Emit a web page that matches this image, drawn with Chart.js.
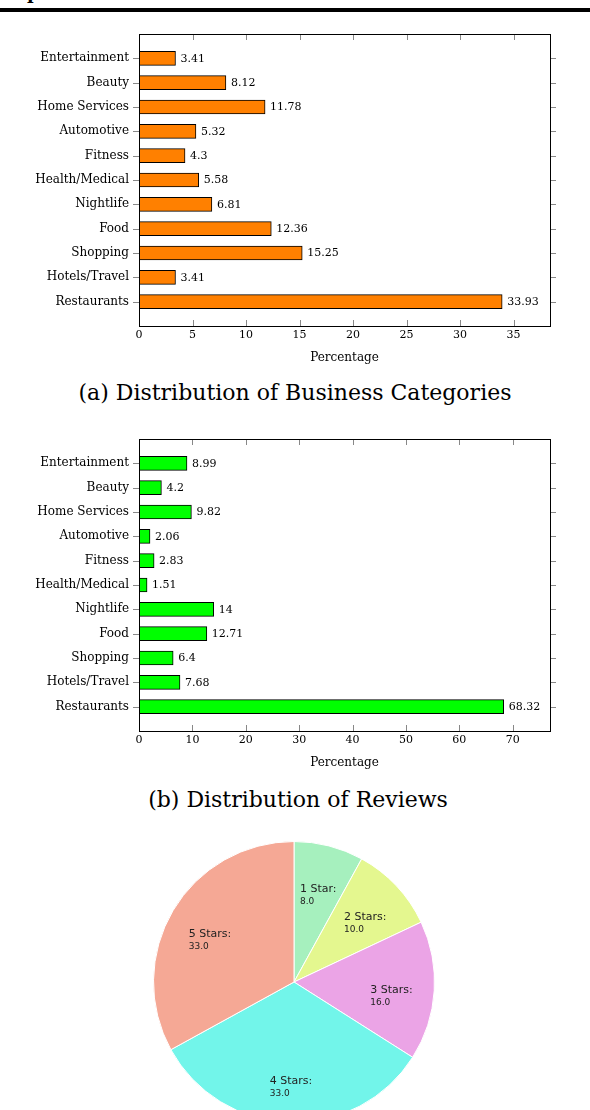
<!DOCTYPE html>
<html>
<head>
<meta charset="utf-8">
<script src="https://cdn.jsdelivr.net/npm/chart.js@4.4.1/dist/chart.umd.min.js"></script>
<style>
  html, body { margin:0; padding:0; background:#fff; }
  #page { position:relative; width:590px; height:1110px; overflow:hidden; background:#fff; }
  canvas { position:absolute; }
  .rule { position:absolute; left:0; top:8px; width:590px; height:4px; background:#000; }
  .head { position:absolute; left:27px; top:-16px; font:bold 18px "DejaVu Serif"; line-height:18px; color:#000; }
  .cap { position:absolute; left:0; width:590px; text-align:center; font:22px "DejaVu Serif"; line-height:26px; color:#000; }
</style>
</head>
<body>
<div id="page">
  <div class="head">p</div>
  <div class="rule"></div>
  <canvas id="c1" width="590" height="380" style="left:0;top:0;"></canvas>
  <div class="cap" style="top:380px;">(a) Distribution of Business Categories</div>
  <canvas id="c2" width="590" height="380" style="left:0;top:405px;"></canvas>
  <div class="cap" style="top:787px;left:3px;">(b) Distribution of Reviews</div>
  <canvas id="c3" width="282" height="282" style="left:153px;top:841px;"></canvas>
</div>
<script>
// ---- data ----
const categories = ['Entertainment','Beauty','Home Services','Automotive','Fitness','Health/Medical','Nightlife','Food','Shopping','Hotels/Travel','Restaurants'];
const businessPct = [3.41, 8.12, 11.78, 5.32, 4.3, 5.58, 6.81, 12.36, 15.25, 3.41, 33.93];
const reviewPct   = [8.99, 4.2, 9.82, 2.06, 2.83, 1.51, 14, 12.71, 6.4, 7.68, 68.32];
const businessAxisMax = 38.4, businessTickStep = 5;
const reviewAxisMax = 77, reviewTickStep = 10;
const starLabels = ['1 Star','2 Stars','3 Stars','4 Stars','5 Stars'];
const starPct = [8.0, 10.0, 16.0, 33.0, 33.0];
const starColors = ['#a6f0be','#e4f78f','#eba4e6','#72f5ea','#f5a895'];

const SERIF = '"DejaVu Serif", serif';

const framePlugin = {
  id: 'frame',
  afterDatasetsDraw(chart) {
    const {ctx, chartArea: a, scales: {x, y}} = chart;
    ctx.save();
    ctx.lineWidth = 1;
    ctx.strokeStyle = '#888';
    ctx.beginPath();
    x.ticks.forEach(t => {
      if (t.value === 0) return;
      const px = Math.round(x.getPixelForValue(t.value)) + 0.5;
      ctx.moveTo(px, a.bottom); ctx.lineTo(px, a.bottom - 6);
      ctx.moveTo(px, a.top); ctx.lineTo(px, a.top + 6);
    });
    categories.forEach((c, i) => {
      const py = Math.round(y.getPixelForValue(i)) + 0.5;
      ctx.moveTo(a.left - 6, py); ctx.lineTo(a.left, py);
      ctx.moveTo(a.right, py); ctx.lineTo(a.right + 6, py);
    });
    ctx.stroke();
    ctx.strokeStyle = '#000';
    ctx.strokeRect(Math.round(a.left) + 0.5, Math.round(a.top) + 0.5, Math.round(a.right - a.left), Math.round(a.bottom - a.top));
    const meta = chart.getDatasetMeta(0);
    const ds = chart.data.datasets[0].data;
    ctx.fillStyle = '#000';
    ctx.font = '11px ' + SERIF;
    ctx.textAlign = 'left';
    ctx.textBaseline = 'middle';
    meta.data.forEach((bar, i) => {
      ctx.fillText(String(ds[i].x), bar.x + 5, bar.y + 0.5);
    });
    ctx.restore();
  }
};

function barChart(id, values, color, axisMax, step) {
  return new Chart(document.getElementById(id), {
    type: 'bar',
    data: {
      datasets: [{
        data: values.map((v, i) => ({x: v, y: i})),
        backgroundColor: color,
        borderColor: '#000',
        borderWidth: 1,
        borderSkipped: false,
        barThickness: 14
      }]
    },
    options: {
      indexAxis: 'y',
      responsive: false,
      animation: false,
      layout: { padding: { top: 34, right: 40, left: 0, bottom: 0 } },
      plugins: { legend: { display: false }, tooltip: { enabled: false } },
      scales: {
        x: {
          type: 'linear',
          min: 0, max: axisMax,
          grid: { display: false, drawTicks: false },
          border: { display: false },
          ticks: { stepSize: step, includeBounds: false, padding: 3, color: '#000', font: { family: SERIF, size: 11 } },
          title: { display: true, text: 'Percentage', color: '#000', font: { family: SERIF, size: 12 }, padding: { top: 0, bottom: 15 } },
          afterFit(s) { s.height = 54; }
        },
        y: {
          type: 'linear',
          reverse: true,
          offset: false,
          min: -1, max: categories.length,
          grid: { display: false, drawTicks: false },
          border: { display: false },
          ticks: {
            stepSize: 1, autoSkip: false, padding: 10, color: '#000',
            font: { family: SERIF, size: 12 },
            callback: v => (Number.isInteger(v) && v >= 0 && v < categories.length) ? categories[v] : ''
          },
          afterFit(s) { s.width = 139; }
        }
      }
    },
    plugins: [framePlugin]
  });
}

barChart('c1', businessPct, '#ff8000', businessAxisMax, businessTickStep);
barChart('c2', reviewPct, '#00ff00', reviewAxisMax, reviewTickStep);

const pieLabels = {
  id: 'pieLabels',
  afterDatasetsDraw(chart) {
    const {ctx} = chart;
    const meta = chart.getDatasetMeta(0);
    ctx.save();
    ctx.fillStyle = '#222';
    ctx.textAlign = 'left';
    ctx.textBaseline = 'middle';
    meta.data.forEach((arc, i) => {
      const p = arc.getProps(['x','y','startAngle','endAngle','outerRadius'], true);
      const mid = (p.startAngle + p.endAngle) / 2;
      const r = p.outerRadius * 0.695;
      const ax = p.x + Math.cos(mid) * r;
      const ay = p.y + Math.sin(mid) * r;
      const l1 = starLabels[i] + ':';
      ctx.font = '11px "DejaVu Sans", sans-serif';
      const w = ctx.measureText(l1).width;
      const left = ax - w / 2;
      ctx.fillText(l1, left, ay + 2);
      ctx.font = '9px "DejaVu Sans", sans-serif';
      ctx.fillText(starPct[i].toFixed(1), left, ay + 14.5);
    });
    ctx.restore();
  }
};

new Chart(document.getElementById('c3'), {
  type: 'pie',
  data: {
    labels: starLabels,
    datasets: [{ data: starPct, backgroundColor: starColors, borderColor: '#fff', borderWidth: 1 }]
  },
  options: {
    responsive: false,
    animation: false,
    layout: { padding: 0 },
    plugins: { legend: { display: false }, tooltip: { enabled: false } }
  },
  plugins: [pieLabels]
});
</script>
</body>
</html>
